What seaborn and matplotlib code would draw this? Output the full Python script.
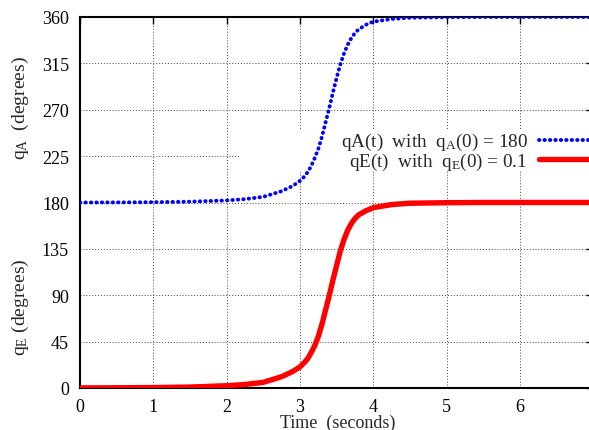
import matplotlib
matplotlib.use("Agg")
import matplotlib.pyplot as plt
import seaborn as sns
import pandas as pd
from matplotlib.patches import Rectangle

# ---- data ----
time_s = [0, 0.5, 1.0, 1.5, 2.0, 2.25, 2.5, 2.75, 2.9, 3.0, 3.05, 3.1, 3.15, 3.2,
          3.25, 3.3, 3.35, 3.4, 3.45, 3.5, 3.55, 3.6, 3.65, 3.7, 3.75, 3.8, 3.9,
          4.0, 4.25, 4.5, 5.0, 5.5, 6.0, 7.0]
qE_deg = [0.1, 0.2, 0.4, 0.9, 2.2, 3.4, 5.5, 11, 16, 20.5, 24, 28, 34, 41,
          50, 62, 76, 90, 105, 119, 133, 144, 153, 159.5, 164.5, 168, 172,
          175, 178, 179.3, 179.8, 180, 180, 180]
qA_deg = [180, 180.1, 180.3, 180.8, 182, 183.3, 185.5, 191, 196, 201, 204.5, 209, 215, 223,
          232, 244, 258, 272, 287, 301, 314, 324.5, 333, 339.5, 344.5, 348, 352.5,
          355.5, 358, 359.3, 359.8, 360, 360, 360]
x_ticks = [0, 1, 2, 3, 4, 5, 6]
y_ticks = [0, 45, 90, 135, 180, 225, 270, 315, 360]
label_A = r"qA(t)  with  q$\mathregular{_A}$(0) = 180"
label_E = r"qE(t)  with  q$\mathregular{_E}$(0) = 0.1"

df = pd.DataFrame({"t": time_s, "qA": qA_deg, "qE": qE_deg})

sns.set_theme(style="white")
plt.rcParams["font.family"] = ["Liberation Serif", "DejaVu Serif"]
plt.rcParams["font.size"] = 13

fig = plt.figure(figsize=(5.89, 4.31), dpi=100)
W, H = 589, 431
x0, y0, x1, y1 = 80, 389, 80 + 7 * 73.33, 18
ax = fig.add_axes([x0 / W, 1 - y0 / H, (x1 - x0) / W, (y0 - y1) / H])

sns.lineplot(data=df, x="t", y="qA", ax=ax, color="#0000ff", linewidth=2.8,
             linestyle=(0, (0.1, 1.3)), dash_capstyle="round", sort=False,
             errorbar=None, label=label_A, zorder=3)
sns.lineplot(data=df, x="t", y="qE", ax=ax, color="#ff0000", linewidth=3.9,
             sort=False, errorbar=None, label=label_E, zorder=3)

ax.set_xlim(0, 7)
ax.set_ylim(0, 360)
ax.set_xticks(x_ticks)
ax.set_yticks(y_ticks)
ax.tick_params(direction="in", top=True, right=True, length=5, width=1,
               colors="black", labelsize=13)
ax.tick_params(axis="y", pad=8)
ax.tick_params(axis="x", pad=7)
ax.set_axisbelow(True)
ax.grid(True, color="#444444", linestyle=(0, (1, 2)), linewidth=0.7)
for s in ax.spines.values():
    s.set_color("black")
    s.set_linewidth(1.5)

# blank area behind key (as gnuplot's opaque key)
ax.add_patch(Rectangle((0.312, 0.585), 0.7, 0.113, transform=ax.transAxes,
                       facecolor="white", edgecolor="none", zorder=1))

ax.set_xlabel("")
ax.set_ylabel("")
leg = ax.legend(loc="upper right", bbox_to_anchor=(1.0175, 0.692),
                frameon=False, markerfirst=False, handlelength=3.3,
                handletextpad=0.6, labelspacing=-0.08, borderaxespad=0,
                borderpad=0, fontsize=13.8)

fig.text(338 / W, 1 - 423 / H, "Time  (seconds)", ha="center", va="center", fontsize=13)
fig.text(20 / W, 1 - 108 / H, r"q$\mathregular{_A}$  (degrees)", rotation=90,
         ha="center", va="center", fontsize=14)
fig.text(20 / W, 1 - 307 / H, r"q$\mathregular{_E}$ (degrees)", rotation=90,
         ha="center", va="center", fontsize=14)

fig.savefig("out.png", dpi=100)
